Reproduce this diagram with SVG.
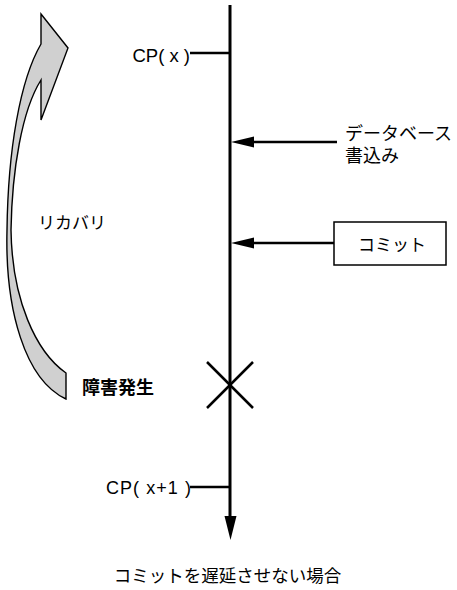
<svg xmlns="http://www.w3.org/2000/svg" width="457" height="590" viewBox="0 0 457 590">
<style>
.t{font-family:"Liberation Sans","Noto Sans CJK JP",sans-serif;fill:#000}
.ln{stroke:#000;stroke-width:2.5;fill:none}
</style>
<rect width="457" height="590" fill="#fff"/>
<g id="recovery-arrow">
<path d="M41,14 L68,48 L41,120 L41,80 C22,110 12,170 11,230 C12,300 36,352 66,373 L66,399 C25,380 5,310 7,230 C8,150 20,80 41,44 Z" fill="#d0d0d0" stroke="#000" stroke-width="1.4" stroke-linejoin="miter"/>
<text class="t" x="38" y="229" font-size="17">リカバリ</text>
</g>
<g id="connectors">
<line x1="230" y1="5" x2="230" y2="518" stroke="#000" stroke-width="3"/>
<polygon points="224.5,516 236.5,516 230.5,540" fill="#000"/>
<line class="ln" x1="190" y1="53" x2="230" y2="53"/>
<line class="ln" x1="190" y1="487" x2="230" y2="487"/>
<line class="ln" x1="337" y1="142" x2="253" y2="142"/>
<polygon points="231,142 254,136.5 254,147.5" fill="#000"/>
<line class="ln" x1="334" y1="243" x2="253" y2="243"/>
<polygon points="231,243 254,237.5 254,248.5" fill="#000"/>
</g>
<g id="cp-x">
<text class="t" x="190" y="62" font-size="18.5" text-anchor="end">CP( x )</text>
</g>
<g id="cp-x1">
<text class="t" x="106" y="494" font-size="18" textLength="85" lengthAdjust="spacing">CP( x+1 )</text>
</g>
<g id="db-write">
<text class="t" x="345" y="140" font-size="18" textLength="107" lengthAdjust="spacing">データベース</text>
<text class="t" x="345" y="162" font-size="18">書込み</text>
</g>
<g id="commit">
<rect x="334" y="222" width="112" height="43" fill="#fff" stroke="#000" stroke-width="1.5"/>
<text class="t" x="392" y="251" font-size="17" text-anchor="middle">コミット</text>
</g>
<g id="failure">
<line class="ln" x1="207" y1="362" x2="253" y2="408"/>
<line class="ln" x1="207" y1="408" x2="253" y2="362"/>
<text class="t" x="82" y="394" font-size="18" font-weight="bold">障害発生</text>
</g>
<g id="caption">
<text class="t" x="227.5" y="582" font-size="17.5" text-anchor="middle">コミットを遅延させない場合</text>
</g>
</svg>
